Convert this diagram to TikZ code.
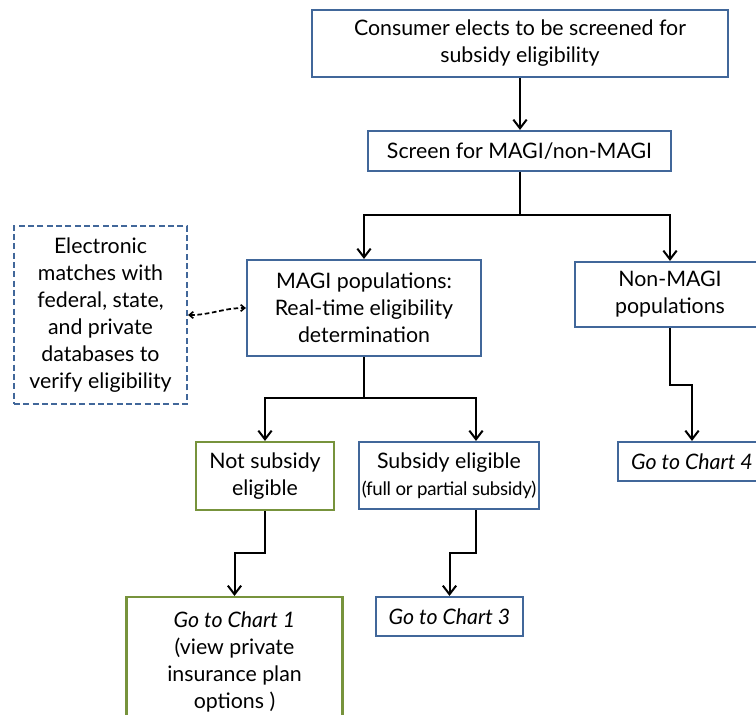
\documentclass[tikz,border=0pt]{standalone}
\usepackage{fontspec}
\setmainfont{Lato}
\usetikzlibrary{arrows.meta,calc}
\definecolor{boxblue}{HTML}{41679A}
\definecolor{boxgreen}{HTML}{77933C}
\tikzset{
  box/.style={draw=boxblue, line width=1.6pt, fill=white, align=center, inner sep=0pt,
    font=\fontsize{16pt}{20.25pt}\selectfont},
  gbox/.style={box, draw=boxgreen},
  dbox/.style={box, dashed, dash pattern=on 4.5pt off 2.5pt},
  arr/.style={line width=1.5pt, -{Straight Barb[length=6.5pt,width=10pt,line width=1.5pt]}},
  darr/.style={line width=1.3pt, dash pattern=on 3.5pt off 2pt,
    {Straight Barb[length=3pt,width=5pt,line width=1.2pt]}-{Straight Barb[length=3pt,width=5pt,line width=1.2pt]}}
}
\begin{document}
\begin{tikzpicture}[x=0.75pt,y=-0.75pt]
\useasboundingbox (0,0) rectangle (756,714);
\clip (0,0) rectangle (756,714);
\node[box, minimum width=416*0.75pt, minimum height=67*0.75pt] (top) at (520,43.5)
  {Consumer elects to be screened for\\subsidy eligibility};
\node[box, minimum width=303*0.75pt, minimum height=40*0.75pt] (screen) at (519.5,151)
  {Screen for MAGI/non-MAGI};
\node[box, minimum width=234*0.75pt, minimum height=96*0.75pt] (magi) at (364,308)
  {MAGI populations:\\Real-time eligibility\\determination};
\node[box, minimum width=190*0.75pt, minimum height=65*0.75pt] (nonmagi) at (670,294.5)
  {Non-MAGI\\populations};
\node[dbox, minimum width=173*0.75pt, minimum height=178*0.75pt] (elec) at (100.5,315)
  {Electronic\\matches with\\federal, state,\\and private\\databases to\\verify eligibility};
\node[gbox, minimum width=138*0.75pt, minimum height=68*0.75pt] (notsub) at (265,476)
  {Not subsidy\\eligible};
\node[box, minimum width=180*0.75pt, minimum height=67*0.75pt] (sub) at (449,475.5)
  {Subsidy eligible\\{\fontsize{14pt}{20.25pt}\selectfont\addfontfeatures{LetterSpace=-1.5}(full or partial subsidy)}};
\node[box, minimum width=148*0.75pt, minimum height=39*0.75pt] (chart4) at (692,461.5)
  {\itshape Go to Chart 4};
\node[box, minimum width=147*0.75pt, minimum height=39*0.75pt] (chart3) at (449.5,616.5)
  {\itshape Go to Chart 3};
\node[gbox, minimum width=216*0.75pt, minimum height=130*0.75pt] (chart1) at (234.5,662)
  {\textit{Go to Chart 1}\\(view private\\insurance plan\\options )};
\coordinate (j1) at (519.5,215);
\coordinate (j2) at (364,398);
\draw[arr] (top.south) -- (top.south |- screen.north);
\draw[line width=1.5pt] (screen.south) -- (j1);
\draw[arr] (j1) -| (magi.north);
\draw[arr] (j1) -| (nonmagi.north);
\draw[line width=1.5pt] (magi.south) -- (j2);
\draw[arr] (j2) -| (notsub.north);
\draw[arr] (j2) -| ([xshift=20.25pt]sub.north);
\draw[arr] (notsub.south) -- ++(0,42) -| (chart1.north);
\draw[arr] ([xshift=20.25pt]sub.south) -- ++(0,43) -| (chart3.north);
\draw[arr] (nonmagi.south) -- ++(0,57) -| (chart4.north);
\draw[darr] (elec.east) to[out=0,in=180] (magi.west);
\end{tikzpicture}
\end{document}
